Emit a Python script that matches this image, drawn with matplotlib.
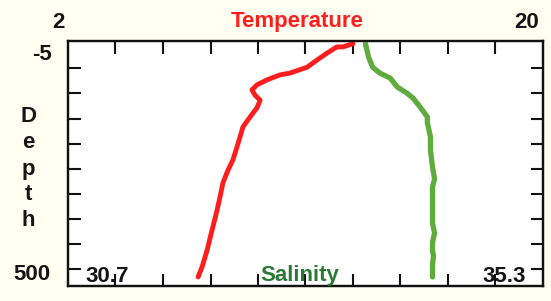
import numpy as np
import matplotlib.pyplot as plt

# axis ranges
temp_range = [2, 20]
sal_range = [30.7, 35.3]
depth_labels = ["-5", "500"]

# temperature profile (deg C vs depth m)
temp = [12.8, 12.42, 12.19, 11.81, 11.44, 11.06, 10.41, 10.03, 9.54, 9.16,
        8.97, 9.09, 9.28, 9.16, 8.90, 8.63, 8.52, 8.40, 8.25, 8.06,
        7.87, 7.76, 7.65, 7.46, 7.27, 7.08, 6.93]
temp_depth = [1, 8, 8, 22, 37, 53, 66, 70, 81, 92,
              103, 115, 126, 143, 163, 185, 207, 230, 258, 281,
              309, 340, 369, 413, 458, 495, 517]

# salinity profile
sal = [33.58, 33.61, 33.65, 33.72, 33.82, 33.89, 33.98, 34.04, 34.11, 34.18,
       34.18, 34.21, 34.21, 34.23, 34.25, 34.23, 34.23, 34.23, 34.25, 34.23,
       34.23, 34.24, 34.23, 34.23]
sal_depth = [1, 30, 53, 66, 77, 97, 110, 121, 141, 163,
             176, 207, 236, 274, 300, 318, 347, 398, 420, 440,
             460, 470, 490, 517]

bg = "#fffff2"
red = "#ff1e1e"
green = "#5fab3e"

fig = plt.figure(figsize=(5.51, 3.01), dpi=100, facecolor=bg)
ax = fig.add_axes([68/551, 15/301, 475/551, 245/301])
ax.set_facecolor("white")

ax.plot(temp, temp_depth, color=red, linewidth=3.5, solid_capstyle="round")
ax.set_xlim(temp_range)
ax.set_ylim(537, -5)

ax2 = ax.twiny()
ax2.plot(sal, sal_depth, color=green, linewidth=3.8, solid_capstyle="round")
ax2.set_xlim(sal_range)
ax2.set_xticks([])

# ticks: 10 x intervals, 9 depth ticks every 500/9 m
ax.set_xticks(np.linspace(temp_range[0], temp_range[1], 11)[1:-1])
ax.set_yticks(np.arange(1, 10) * 500 / 9)
ax.tick_params(direction="in", length=9, width=1.5, color="#111111",
               top=True, right=True, labelbottom=False, labelleft=False)
for a in (ax, ax2):
    for s in a.spines.values():
        s.set_linewidth(1.6)
        s.set_color("#111111")

fk = dict(fontsize=16, fontweight="bold", family="Liberation Sans")
W, H = 551, 301
def put(x, y, s, ha="center", color="#151515"):
    fig.text(x / W, 1 - y / H, s, ha=ha, va="center", color=color, **fk)

put(58, 22, str(temp_range[0]))
put(527, 22, str(temp_range[1]))
put(297, 22, "Temperature", color=red)
put(107, 276, str(sal_range[0]))
put(504, 276, str(sal_range[1]))
put(300, 276, "Salinity", color="#2a7a36")
put(52, 55, depth_labels[0], ha="right")
put(50, 275, depth_labels[1], ha="right")
for i, ch in enumerate("Depth"):
    put(28, 117 + i * 26, ch)

fig.savefig("out.png", dpi=100, facecolor=bg)
